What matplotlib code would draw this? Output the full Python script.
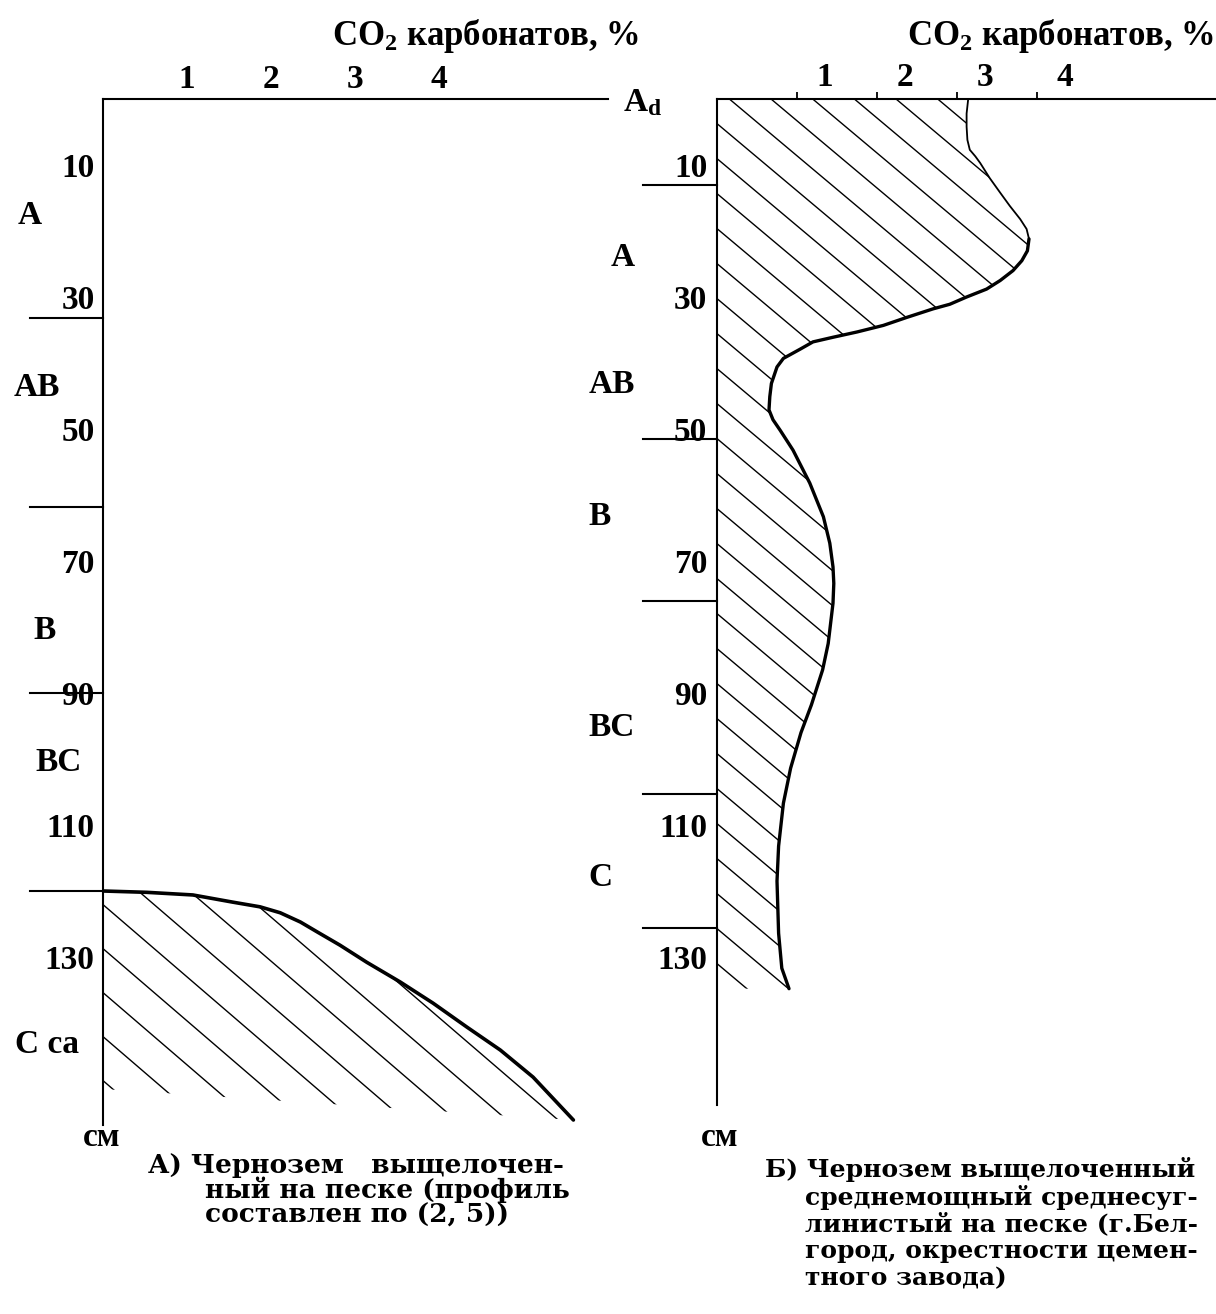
import numpy as np
import matplotlib
matplotlib.use("Agg")
import matplotlib.pyplot as plt
from matplotlib.patches import Polygon
from matplotlib.collections import LineCollection
from matplotlib.transforms import ScaledTranslation, blended_transform_factory

# ---- data ---------------------------------------------------------------
# Profile A: leached chernozem on sand
a_co2 = [0.0, 0.52, 1.07, 1.55, 1.87, 2.11, 2.35, 2.55, 2.82, 3.14, 3.54, 3.93,
         4.33, 4.73, 5.12, 5.60]
a_depth = [120.0, 120.2, 120.6, 121.7, 122.4, 123.3, 124.7, 126.2, 128.2, 130.8,
           133.8, 137.0, 140.6, 144.1, 148.2, 154.7]
a_horizon_bounds = [33.2, 61.8, 90.0, 120.0]
a_horizon_names = ["A", "AB", "B", "BC", "C ca"]
a_horizon_label_depth = [17.6, 43.7, 80.5, 100.5, 143.3]

# Profile B: leached chernozem, Belgorod
b_co2 = [3.14, 3.12, 3.12, 3.13, 3.16, 3.23, 3.29, 3.41, 3.54, 3.66, 3.79, 3.87,
         3.90, 3.88, 3.81, 3.70, 3.54, 3.37, 3.12, 2.91, 2.70, 2.37, 2.08, 1.75,
         1.45, 1.20, 1.04, 0.83, 0.75, 0.68, 0.66, 0.65, 0.70, 0.79, 0.95, 1.16,
         1.33, 1.41, 1.45, 1.46, 1.45, 1.39, 1.32, 1.18, 1.05, 0.92, 0.83, 0.77,
         0.75, 0.77, 0.81, 0.90]
b_depth = [0.0, 2.2, 4.2, 6.2, 7.7, 8.7, 9.7, 12.0, 14.2, 16.2, 18.2, 19.7,
           21.2, 23.0, 24.5, 26.0, 27.5, 28.8, 30.0, 31.1, 31.8, 33.1, 34.3, 35.3,
           36.1, 36.8, 37.9, 39.3, 40.6, 43.1, 45.1, 47.1, 48.6, 50.2, 53.2, 58.2,
           63.3, 67.3, 70.9, 73.4, 76.4, 82.5, 86.5, 91.8, 96.0, 101.4, 106.7, 113.2,
           118.5, 126.4, 131.7, 134.8]
b_horizon_bounds = [13.0, 51.5, 76.1, 105.3, 125.6]
b_horizon_names = ["A$_\\mathrm{d}$", "A", "AB", "B", "BC", "C"]
b_horizon_label_depth = [0.6, 24.0, 43.3, 63.3, 95.2, 118.0]

co2_ticks = [1, 2, 3, 4]
depth_ticks = [10, 30, 50, 70, 90, 110, 130]
axis_title = "CO$_2$ карбонатов, %"
caption_a = ["А) Чернозем   выщелочен-", "ный на песке (профиль", "составлен по (2, 5))"]
caption_b = ["Б) Чернозем выщелоченный", "среднемощный среднесуг-", "линистый на песке (г.Бел-",
             "город, окрестности цемен-", "тного завода)"]

# ---- style --------------------------------------------------------------
plt.rcParams["font.family"] = ["Liberation Serif", "DejaVu Serif"]
plt.rcParams["font.weight"] = "bold"
plt.rcParams["mathtext.fontset"] = "custom"
plt.rcParams["mathtext.rm"] = "Liberation Serif:bold"
plt.rcParams["mathtext.it"] = "Liberation Serif:bold:italic"
plt.rcParams["mathtext.bf"] = "Liberation Serif:bold"

W, H = 1216, 1314
fig = plt.figure(figsize=(W / 100, H / 100), dpi=100)
fig.patch.set_facecolor("white")

PX_PER_CM = 6.6
TOP = 99
NUM_FS = 24


def make_axes(x0, x1, y1, px_per_unit):
    ax = fig.add_axes([x0 / W, 1 - y1 / H, (x1 - x0) / W, (y1 - TOP) / H])
    ax.set_xlim(0, (x1 - x0) / px_per_unit)
    ax.set_ylim((y1 - TOP) / PX_PER_CM, 0)
    for side in ("right", "bottom"):
        ax.spines[side].set_visible(False)
    for side in ("left", "top"):
        ax.spines[side].set_linewidth(1.5)
    ax.xaxis.set_ticks_position("top")
    ax.set_facecolor("none")
    return ax


def hatch(ax, xs, ys, px_unit, slope_px, step_px, phase_cm):
    poly = Polygon(np.column_stack([xs, ys]), closed=True, facecolor="none",
                   edgecolor="none", transform=ax.transData)
    ax.add_patch(poly)
    k = slope_px * px_unit / PX_PER_CM
    step = step_px / PX_PER_CM
    x_hi = ax.get_xlim()[1]
    segs = []
    c = phase_cm - k * x_hi
    while c < ax.get_ylim()[0] + 5:
        segs.append([(0, c), (x_hi, c + k * x_hi)])
        c += step
    lc = LineCollection(segs, colors="black", linewidths=1.0)
    ax.add_collection(lc)
    lc.set_clip_path(poly)


def horizon_lines(ax, bounds, x_from_px, x_axis_px):
    tr = blended_transform_factory(fig.transFigure, ax.transData)
    for d in bounds:
        ax.plot([x_from_px / W, x_axis_px / W], [d, d], color="black", lw=1.5,
                transform=tr, clip_on=False)


def horizon_labels(ax, names, depths, xs_px):
    tr = blended_transform_factory(fig.transFigure, ax.transData)
    for name, d, xp in zip(names, depths, xs_px):
        ax.text(xp / W, d, name, transform=tr, ha="center", va="center",
                fontsize=NUM_FS, fontweight="bold")


# ---- panel A ------------------------------------------------------------
axA = make_axes(103, 608, 1125, 84)
axA.plot(a_co2, a_depth, color="black", lw=2.6, solid_capstyle="round",
         solid_joinstyle="round")
hatch(axA, a_co2 + [0.0], a_depth + [150.0], 84, 0.86, 44, 121.2)
axA.set_xticks(co2_ticks)
axA.set_xticklabels([str(t) for t in co2_ticks], fontsize=NUM_FS, fontweight="bold")
axA.set_yticks(depth_ticks)
axA.set_yticklabels([str(t) for t in depth_ticks], fontsize=NUM_FS, fontweight="bold")
axA.tick_params(axis="x", length=0, pad=3)
axA.tick_params(axis="y", length=0, pad=6)
horizon_lines(axA, a_horizon_bounds, 30, 103)
horizon_labels(axA, a_horizon_names, a_horizon_label_depth, [30, 37, 45, 59, 47])

# ---- panel B ------------------------------------------------------------
axB = make_axes(717, 1216, 1105, 80)
# thin upper stretch of the curve, heavier stroke below it
axB.plot(b_co2[:13], b_depth[:13], color="black", lw=1.3, solid_capstyle="round",
         solid_joinstyle="round")
axB.plot(b_co2[12:], b_depth[12:], color="black", lw=2.4, solid_capstyle="round",
         solid_joinstyle="round")
hatch(axB, [0.0] + b_co2 + [0.0], [0.0] + b_depth + [b_depth[-1]], 80, 0.84, 35, 3.6)
axB.set_xticks(co2_ticks)
axB.set_xticklabels([])
axB.tick_params(axis="x", direction="out", length=5, width=1.3)
label_shift = ScaledTranslation(28 / 100, 6 / 100, fig.dpi_scale_trans)
for t in co2_ticks:
    axB.text(t, 0, str(t), transform=axB.transData + label_shift, ha="center",
             va="bottom", fontsize=NUM_FS, fontweight="bold")
axB.set_yticks(depth_ticks)
axB.set_yticklabels([str(t) for t in depth_ticks], fontsize=NUM_FS, fontweight="bold")
axB.tick_params(axis="y", length=0, pad=7)
horizon_lines(axB, b_horizon_bounds, 643, 717)
horizon_labels(axB, b_horizon_names, b_horizon_label_depth, [643, 623, 612, 600, 612, 600])

# ---- titles, units, captions -------------------------------------------
def ftext(x, y, s, **kw):
    fig.text(x / W, 1 - y / H, s, fontweight="bold", **kw)

ftext(485, 36, axis_title, fontsize=25, ha="center", va="center")
ftext(1060, 36, axis_title, fontsize=25, ha="center", va="center")
ftext(102, 1137, "см", fontsize=NUM_FS, ha="center", va="center")
ftext(720, 1137, "см", fontsize=NUM_FS, ha="center", va="center")

cap_font = ["DejaVu Serif"]
for i, line in enumerate(caption_a):
    ftext(148 if i == 0 else 205, 1165 + 25 * i, line, fontsize=19, ha="left",
          va="center", family=cap_font)
for i, line in enumerate(caption_b):
    ftext(765 if i == 0 else 805, 1170 + 27 * i, line, fontsize=18, ha="left",
          va="center", family=cap_font)

fig.savefig("out.png", dpi=100, facecolor="white")
